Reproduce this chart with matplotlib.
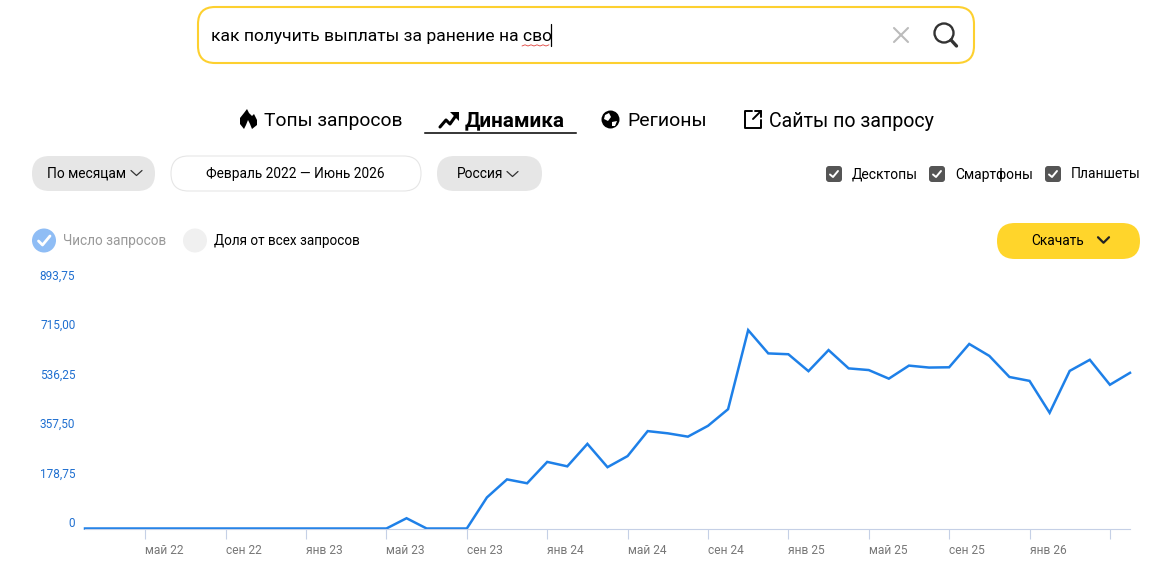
import matplotlib
matplotlib.use('Agg')
import matplotlib.pyplot as plt
from matplotlib.patches import FancyBboxPatch, Circle, Polygon
from matplotlib.transforms import ScaledTranslation

plt.rcParams['font.family'] = ['Roboto', 'DejaVu Sans']

################################################################################
# data
################################################################################

query_counts = [0, 0, 0, 0, 0, 0, 0, 0, 0, 0, 0, 0, 0, 0, 0, 0, 37, 0, 0, 0,
                112, 177, 163, 240, 224, 305, 221, 261, 351, 343, 331, 370, 430,
                715, 631, 628, 567, 643, 577, 571, 540, 587, 580, 581, 665, 622,
                546, 532, 417, 568, 608, 518, 561]
month_labels = ['май 22', 'сен 22', 'янв 23', 'май 23', 'сен 23', 'янв 24', 'май 24',
                'сен 24', 'янв 25', 'май 25', 'сен 25', 'янв 26', '']
y_values = [0, 178.75, 357.5, 536.25, 715, 893.75]
y_labels = ['0', '178,75', '357,50', '536,25', '715,00', '893,75']

################################################################################
# figure
################################################################################

W, H = 1166, 585
fig = plt.figure(figsize=(W/100, H/100), dpi=100)

ui = fig.add_axes([0, 0, 1, 1])
ui.set_xlim(0, W)
ui.set_ylim(H, 0)
ui.axis('off')

ax = fig.add_axes([85/W, (H-528.5)/H, 1045/W, 248/H])
ax.patch.set_alpha(0)

################################################################################
# helpers
################################################################################

def px(size):
    # css pixels to points
    return size*0.72

def pill(x0, y0, x1, y1, r, fc, ec='none', lw=0):
    ui.add_patch(FancyBboxPatch((x0+r, y0+r), x1-x0-2*r, y1-y0-2*r,
                                boxstyle='round,pad={},rounding_size={}'.format(r, r),
                                fc=fc, ec=ec, lw=lw))

def label(x, y, s, size=13.7, color='black', ha='left', **kw):
    ui.text(x, y, s, fontsize=px(size), color=color, ha=ha, va='center_baseline', **kw)

def stroke(xs, ys, color='black', lw=1.5):
    ui.plot(xs, ys, color=color, lw=lw, solid_capstyle='round', solid_joinstyle='round')

def chevron(x, y, w=5.5, h=5, color='#333333', lw=0.9):
    stroke([x-w, x, x+w], [y-h/2, y+h/2, y-h/2], color, lw)

def checkbox(x, y, s):
    pill(x, y, x+16, y+16, 3, '#555555')
    stroke([x+4, x+7, x+12], [y+8.5, y+11, y+5], 'white', 1.4)
    label(x+26, y+7, s, 13.9)

################################################################################
# search box
################################################################################

pill(198, 7, 974, 63, 17, 'white', '#fdd02f', 1.5)
label(211, 34.5, 'как получить выплаты за ранение на сво', 17.45)
stroke([551, 551], [24, 46], 'black', 0.9)
stroke([522, 525, 528, 531, 534, 537, 540, 543, 546, 549],
       [46, 44.8, 46, 44.8, 46, 44.8, 46, 44.8, 46, 44.8], '#e0403a', 0.6)
stroke([894, 908], [28, 42], '#bbbbbb', 1.5)
stroke([894, 908], [42, 28], '#bbbbbb', 1.5)
ui.add_patch(Circle((944, 33), 9.5, fc='none', ec='#333333', lw=1.7))
stroke([951, 956.5], [40, 46], '#333333', 2.4)

################################################################################
# tabs
################################################################################

ui.add_patch(Polygon([(244, 129), (240, 124), (240, 118), (244, 113), (247, 109), (249, 113),
                      (252, 116), (254, 114), (257, 120), (257, 125), (252, 129), (250, 124),
                      (248, 120), (246, 125)], fc='black', ec='none'))
label(264, 119.5, 'Топы запросов', 19.3)

stroke([440, 446, 450, 457], [127, 120, 124, 114], 'black', 2.2)
ui.add_patch(Polygon([(450, 112), (459, 112), (459, 121)], fc='black', ec='none'))
label(465, 119, 'Динамика', 20.6, fontweight='bold')
ui.plot([425, 576], [133, 133], color='black', lw=1.1)

ui.add_patch(Circle((610.5, 119.5), 9, fc='black', ec='none'))
ui.add_patch(Polygon([(605, 115), (609, 113), (611, 117), (608, 121), (604, 119)], fc='white', ec='none'))
ui.add_patch(Polygon([(612, 122), (617, 121), (615, 126), (612, 126)], fc='white', ec='none'))
label(627, 119.5, 'Регионы', 19.5)

stroke([752, 745, 745, 761, 761], [111, 111, 128, 128, 120], 'black', 1.4)
stroke([753, 761], [119, 111], 'black', 1.4)
stroke([755, 761, 761], [111, 111, 117], 'black', 1.4)
label(769, 119.5, 'Сайты по запросу', 19.6)

################################################################################
# filters
################################################################################

pill(32, 156, 155, 191, 17.5, '#e6e6e6')
label(47, 172.5, 'По месяцам')
chevron(136.5, 173)

pill(171, 156, 421, 191, 17.5, 'white', '#e6e6e6', 0.8)
label(295.5, 172.5, 'Февраль 2022 — Июнь 2026', ha='center')

pill(437, 156, 542, 191, 17.5, '#e6e6e6')
label(457, 172, 'Россия')
chevron(512.5, 174)

checkbox(826, 166, 'Десктопы')
checkbox(929, 166, 'Смартфоны')
checkbox(1045, 166, 'Планшеты')

ui.add_patch(Circle((44, 240.5), 12, fc='#8fbdf5', ec='none'))
stroke([38.5, 42.5, 50], [241, 245, 236], 'white', 2)
label(63, 240, 'Число запросов', 13.6, color='#999999')
ui.add_patch(Circle((195, 240.5), 12, fc='#f0f0f0', ec='none'))
label(214, 240, 'Доля от всех запросов', 13.5)

pill(997, 223, 1140, 259, 18, '#ffd52b')
label(1031, 239.5, 'Скачать')
chevron(1103.5, 240, 5.5, 5.5, '#222222', 1.6)

################################################################################
# chart
################################################################################

months = list(range(len(query_counts)))
ax.plot(months, query_counts, color='#1e80e8', lw=1.8, solid_joinstyle='miter', clip_on=False)

ax.set_xlim(0, len(query_counts)-1)
ax.set_ylim(0, 893.75)
for side in ['top', 'right', 'left']:
    ax.spines[side].set_visible(False)
ax.spines['bottom'].set_color('#c5d0e6')
ax.spines['bottom'].set_linewidth(0.8)

ax.set_xticks(months[3::4])
ax.set_xticklabels(month_labels, fontsize=px(12), color='#777777', ha='left')
ax.tick_params(axis='x', length=7, width=0.8, color='#c5d0e6', pad=4.5)

ax.set_yticks(y_values)
ax.set_yticklabels(y_labels, fontsize=px(11.7), color='#1f6fd0')
ax.tick_params(axis='y', length=0, pad=7)
for t in ax.get_yticklabels():
    t.set_transform(t.get_transform() + ScaledTranslation(0, 6.2/100, fig.dpi_scale_trans))

fig.savefig('out.png', dpi=100)
